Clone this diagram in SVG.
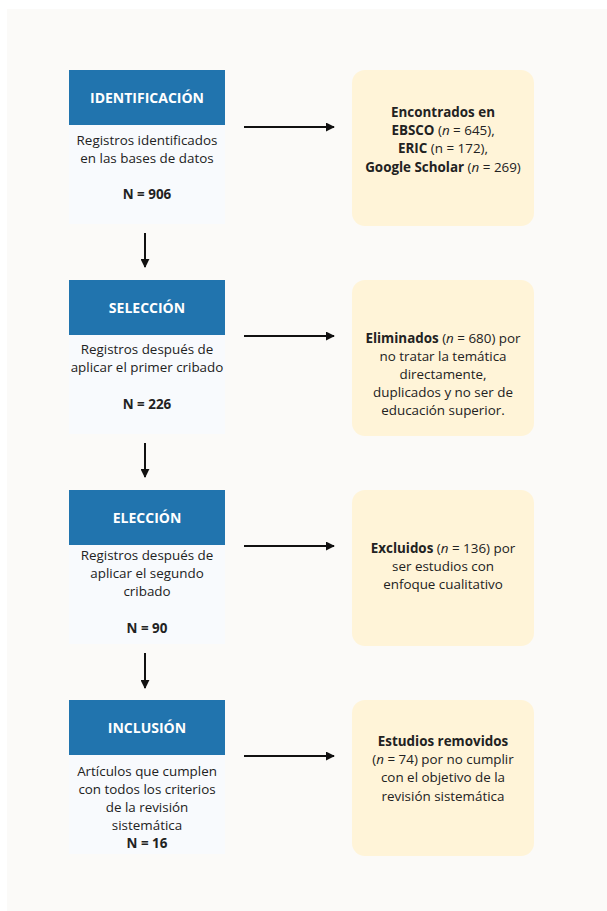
<svg xmlns="http://www.w3.org/2000/svg" width="607" height="911" viewBox="0 0 607 911">
<defs>
<style>
text{font-family:"Open Sans","Noto Sans","Liberation Sans",sans-serif;font-size:13.4px;fill:#222;text-anchor:middle}
.hd{fill:#ffffff;font-weight:bold;font-size:14px}
.b{font-weight:bold}
.i{font-style:italic}
.head{fill:#2174ae}
.body{fill:#f8fafd}
.note{fill:#fff4d8}
.conn line{stroke:#111;stroke-width:2}
</style>
<marker id="ah" viewBox="0 0 10 10" refX="9" refY="5" markerWidth="4.5" markerHeight="4.5" orient="auto" markerUnits="strokeWidth">
<path d="M0,0 L10,5 L0,10 Z" fill="#111"/>
</marker>
</defs>
<rect x="0" y="0" width="607" height="911" fill="#ffffff"/>
<rect x="7" y="9" width="600" height="902" fill="#fbfaf8"/>

<g id="identificacion">
<rect class="body" x="69" y="125" width="156" height="99"/>
<rect class="head" x="69" y="70" width="156" height="55"/>
<text class="hd" x="147" y="103">IDENTIFICACIÓN</text>
<text x="147" y="145">Registros identificados</text>
<text x="147" y="163">en las bases de datos</text>
<text class="b" x="147" y="199">N = 906</text>
</g>
<g id="encontrados">
<rect class="note" x="352" y="70" width="182" height="156" rx="13"/>
<text x="443" y="117"><tspan class="b">Encontrados en</tspan></text>
<text x="443" y="135"><tspan class="b">EBSCO</tspan> (<tspan class="i">n</tspan> = 645),</text>
<text x="443" y="153"><tspan class="b">ERIC</tspan> (n = 172),</text>
<text x="443" y="172"><tspan class="b">Google Scholar</tspan> (<tspan class="i">n</tspan> = 269)</text>
</g>

<g id="seleccion">
<rect class="body" x="69" y="335" width="156" height="99"/>
<rect class="head" x="69" y="280" width="156" height="55"/>
<text class="hd" x="147" y="313">SELECCIÓN</text>
<text x="147" y="354">Registros después de</text>
<text x="147" y="372">aplicar el primer cribado</text>
<text class="b" x="147" y="409">N = 226</text>
</g>
<g id="eliminados">
<rect class="note" x="352" y="280" width="182" height="156" rx="13"/>
<text x="443" y="343"><tspan class="b">Eliminados</tspan> (<tspan class="i">n</tspan> = 680) por</text>
<text x="443" y="361">no tratar la temática</text>
<text x="443" y="379">directamente,</text>
<text x="443" y="397">duplicados y no ser de</text>
<text x="443" y="415">educación superior.</text>
</g>

<g id="eleccion">
<rect class="body" x="69" y="545" width="156" height="99"/>
<rect class="head" x="69" y="490" width="156" height="55"/>
<text class="hd" x="147" y="523">ELECCIÓN</text>
<text x="147" y="560">Registros después de</text>
<text x="147" y="578">aplicar el segundo</text>
<text x="147" y="596">cribado</text>
<text class="b" x="147" y="633">N = 90</text>
</g>
<g id="excluidos">
<rect class="note" x="352" y="490" width="182" height="156" rx="13"/>
<text x="443" y="553"><tspan class="b">Excluidos</tspan> (<tspan class="i">n</tspan> = 136) por</text>
<text x="443" y="571">ser estudios con</text>
<text x="443" y="589">enfoque cualitativo</text>
</g>

<g id="inclusion">
<rect class="body" x="69" y="755" width="156" height="99"/>
<rect class="head" x="69" y="700" width="156" height="55"/>
<text class="hd" x="147" y="733">INCLUSIÓN</text>
<text x="147" y="776">Artículos que cumplen</text>
<text x="147" y="794">con todos los criterios</text>
<text x="147" y="812">de la revisión</text>
<text x="147" y="830">sistemática</text>
<text class="b" x="147" y="848">N = 16</text>
</g>
<g id="removidos">
<rect class="note" x="352" y="700" width="182" height="156" rx="13"/>
<text x="443" y="746"><tspan class="b">Estudios removidos</tspan></text>
<text x="443" y="764">(<tspan class="i">n</tspan> = 74) por no cumplir</text>
<text x="443" y="782">con el objetivo de la</text>
<text x="443" y="801">revisión sistemática</text>
</g>

<g id="connectors" class="conn">
<line x1="244" y1="127" x2="334" y2="127" marker-end="url(#ah)"/>
<line x1="244" y1="336" x2="334" y2="336" marker-end="url(#ah)"/>
<line x1="244" y1="546" x2="334" y2="546" marker-end="url(#ah)"/>
<line x1="244" y1="756" x2="334" y2="756" marker-end="url(#ah)"/>
<line x1="145" y1="233" x2="145" y2="267" marker-end="url(#ah)"/>
<line x1="145" y1="443" x2="145" y2="477" marker-end="url(#ah)"/>
<line x1="145" y1="653" x2="145" y2="688" marker-end="url(#ah)"/>
</g>
</svg>
